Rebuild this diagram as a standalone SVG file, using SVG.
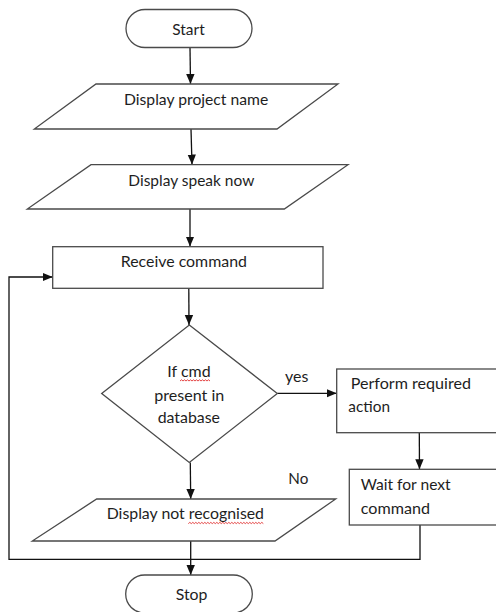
<svg xmlns="http://www.w3.org/2000/svg" width="496" height="612" viewBox="0 0 496 612">
  <style>
    .shape { fill: #ffffff; stroke: #4a4a4a; stroke-width: 1.3; }
    .conn { fill: none; stroke: #111111; stroke-width: 1.3; }
    .lbl { font-family: Lato, "Open Sans", "Liberation Sans", sans-serif; font-size: 15px; fill: #1e1e1e; }
    .squiggle { fill: none; stroke: #e03030; stroke-width: 0.9; }
  </style>
  <defs>
    <marker id="arrow" markerUnits="userSpaceOnUse" markerWidth="10" markerHeight="10" viewBox="0 0 10 10" refX="10" refY="5" orient="auto">
      <path d="M0,0.8 L10,5 L0,9.2 Z" fill="#111111"/>
    </marker>
  </defs>

  <rect width="496" height="612" fill="#ffffff"/>

  <!-- connectors -->
  <g id="connectors">
    <line class="conn" x1="190" y1="47.5" x2="190.5" y2="84" marker-end="url(#arrow)"/>
    <line class="conn" x1="191" y1="129" x2="192" y2="164.5" marker-end="url(#arrow)"/>
    <line class="conn" x1="190" y1="209" x2="190" y2="246.5" marker-end="url(#arrow)"/>
    <line class="conn" x1="188.8" y1="288.3" x2="189" y2="325" marker-end="url(#arrow)"/>
    <line class="conn" x1="277.3" y1="393.3" x2="336.7" y2="393.3" marker-end="url(#arrow)"/>
    <line class="conn" x1="419.3" y1="432.7" x2="419.5" y2="469.3" marker-end="url(#arrow)"/>
    <line class="conn" x1="190.3" y1="462.5" x2="190.7" y2="499" marker-end="url(#arrow)"/>
    <line class="conn" x1="190.7" y1="541" x2="190.7" y2="575" marker-end="url(#arrow)"/>
    <polyline class="conn" points="420,525 420,559.3 9,559.3 9,277 52.7,277" marker-end="url(#arrow)"/>
  </g>

  <g id="start">
    <rect class="shape" x="126" y="9.5" width="126" height="38" rx="19" ry="19"/>
    <text class="lbl" x="172.3" y="35" textLength="32.4" lengthAdjust="spacingAndGlyphs">Start</text>
  </g>

  <g id="display-project-name">
    <polygon class="shape" points="96,84 338,84 277,129 34.3,129"/>
    <text class="lbl" x="124" y="105" textLength="144.3" lengthAdjust="spacingAndGlyphs">Display project name</text>
  </g>

  <g id="display-speak-now">
    <polygon class="shape" points="91,164.7 348,164.7 284.3,209 27.3,209"/>
    <text class="lbl" x="128.3" y="185.7" textLength="126" lengthAdjust="spacingAndGlyphs">Display speak now</text>
  </g>

  <g id="receive-command">
    <rect class="shape" x="52.7" y="246.7" width="270.3" height="41.6"/>
    <text class="lbl" x="120.7" y="266.7" textLength="126.3" lengthAdjust="spacingAndGlyphs">Receive command</text>
  </g>

  <g id="decision">
    <polygon class="shape" points="189.3,325 277.3,393.5 189.3,462.5 101.7,393.5"/>
    <text class="lbl" x="167.3" y="376.7" textLength="43.3" lengthAdjust="spacingAndGlyphs">If cmd</text>
    <path class="squiggle" d="M180,381 l1.5,-1.2 l1.5,1.2 l1.5,-1.2 l1.5,1.2 l1.5,-1.2 l1.5,1.2 l1.5,-1.2 l1.5,1.2 l1.5,-1.2 l1.5,1.2 l1.5,-1.2 l1.5,1.2 l1.5,-1.2 l1.5,1.2 l1.5,-1.2 l1.5,1.2 l1.5,-1.2 l1.5,1.2 l1.5,-1.2 l1.5,1.2"/>
    <text class="lbl" x="154.3" y="400.7" textLength="70" lengthAdjust="spacingAndGlyphs">present in</text>
    <text class="lbl" x="157.7" y="423" textLength="62.3" lengthAdjust="spacingAndGlyphs">database</text>
  </g>

  <g id="label-yes">
    <text class="lbl" x="285" y="381.7" textLength="23.3" lengthAdjust="spacingAndGlyphs">yes</text>
  </g>

  <g id="label-no">
    <text class="lbl" x="288.3" y="484" textLength="20" lengthAdjust="spacingAndGlyphs">No</text>
  </g>

  <g id="perform-action">
    <rect class="shape" x="336.7" y="369" width="162" height="63.7"/>
    <text class="lbl" x="350.7" y="389.3" textLength="120.3" lengthAdjust="spacingAndGlyphs">Perform required</text>
    <text class="lbl" x="348.3" y="411.7" textLength="41.7" lengthAdjust="spacingAndGlyphs">action</text>
  </g>

  <g id="wait-next-command">
    <rect class="shape" x="349.3" y="469.3" width="150" height="55.7"/>
    <text class="lbl" x="360.7" y="490" textLength="90" lengthAdjust="spacingAndGlyphs">Wait for next</text>
    <text class="lbl" x="360.7" y="514.3" textLength="69.3" lengthAdjust="spacingAndGlyphs">command</text>
  </g>

  <g id="display-not-recognised">
    <polygon class="shape" points="96.7,499 335.7,499 275,541 32.3,541"/>
    <text class="lbl" x="106.7" y="519.3" textLength="157.3" lengthAdjust="spacingAndGlyphs">Display not recognised</text>
    <path class="squiggle" d="M188.3,523.6 l1.5,-1.2 l1.5,1.2 l1.5,-1.2 l1.5,1.2 l1.5,-1.2 l1.5,1.2 l1.5,-1.2 l1.5,1.2 l1.5,-1.2 l1.5,1.2 l1.5,-1.2 l1.5,1.2 l1.5,-1.2 l1.5,1.2 l1.5,-1.2 l1.5,1.2 l1.5,-1.2 l1.5,1.2 l1.5,-1.2 l1.5,1.2 l1.5,-1.2 l1.5,1.2 l1.5,-1.2 l1.5,1.2 l1.5,-1.2 l1.5,1.2 l1.5,-1.2 l1.5,1.2 l1.5,-1.2 l1.5,1.2 l1.5,-1.2 l1.5,1.2 l1.5,-1.2 l1.5,1.2 l1.5,-1.2 l1.5,1.2 l1.5,-1.2 l1.5,1.2 l1.5,-1.2 l1.5,1.2 l1.5,-1.2 l1.5,1.2 l1.5,-1.2 l1.5,1.2 l1.5,-1.2 l1.5,1.2 l1.5,-1.2 l1.5,1.2 l1.5,-1.2 l1.5,1.2"/>
  </g>

  <g id="stop">
    <rect class="shape" x="125.7" y="575" width="126.6" height="38" rx="19" ry="19"/>
    <text class="lbl" x="175.7" y="600" textLength="31.7" lengthAdjust="spacingAndGlyphs">Stop</text>
  </g>
</svg>
